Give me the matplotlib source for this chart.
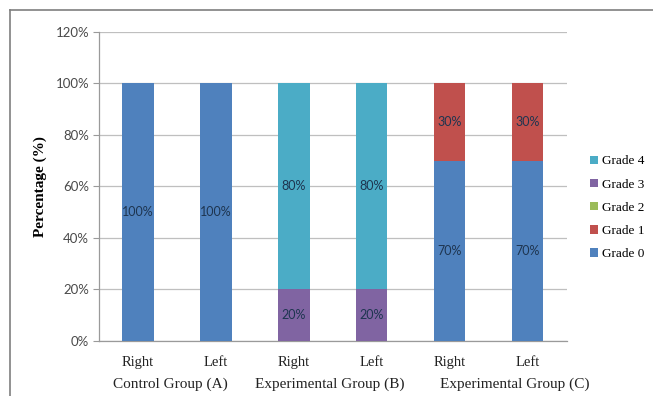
import matplotlib
matplotlib.use("Agg")
import matplotlib.pyplot as plt
from matplotlib.lines import Line2D
from matplotlib.patches import Patch
import numpy as np

# Percentage of limbs by grade, per group and side
sides = ["Right", "Left", "Right", "Left", "Right", "Left"]
groups = ["Control Group (A)", "Experimental Group (B)", "Experimental Group (C)"]
grade_names = ["Grade 0", "Grade 1", "Grade 2", "Grade 3", "Grade 4"]
grade0 = [100, 100, 0, 0, 70, 70]
grade1 = [0, 0, 0, 0, 30, 30]
grade2 = [0, 0, 0, 0, 0, 0]
grade3 = [0, 0, 20, 20, 0, 0]
grade4 = [0, 0, 80, 80, 0, 0]
yticks = [0, 20, 40, 60, 80, 100, 120]

colors = ["#4F81BD", "#C0504D", "#9BBB59", "#8064A2", "#4BACC6"]
series = [grade0, grade1, grade2, grade3, grade4]

serif = "Liberation Serif"
sans = "Lato"

fig = plt.figure(figsize=(6.53, 3.96), dpi=100)
ax = fig.add_axes([0.1516, 0.1389, 0.7164, 0.7803])

x = np.arange(len(sides))
bottom = np.zeros(len(sides))
for vals, col in zip(series, colors):
    vals = np.array(vals, dtype=float)
    ax.bar(x, vals, width=0.4, bottom=bottom, color=col, zorder=3)
    for xi, v, b in zip(x, vals, bottom):
        if v > 0:
            ax.text(xi, b + v / 2, f"{int(v)}%", ha="center", va="center",
                    fontsize=9, family=sans, color="#1E3550", zorder=4)
    bottom += vals

ax.set_xlim(-0.5, len(sides) - 0.5)
ax.set_ylim(0, 120)
ax.set_yticks(yticks)
ax.set_yticklabels([f"{t}%" for t in yticks], family=sans, fontsize=9.5, color="#4A4A4A")
ax.yaxis.grid(True, color="#BFBFBF", linewidth=0.9, zorder=0)
ax.set_axisbelow(True)
ax.tick_params(axis="y", length=4, width=0.8, color="#9A9A9A", pad=3)
ax.tick_params(axis="x", length=0, pad=11)
ax.set_xticks(x)
ax.set_xticklabels(sides, family=serif, fontsize=10.5, color="#222222")
for s in ["top", "right"]:
    ax.spines[s].set_visible(False)
for s in ["left", "bottom"]:
    ax.spines[s].set_color("#9A9A9A")
    ax.spines[s].set_linewidth(0.9)

ax.set_ylabel("Percentage (%)", family=serif, fontsize=11, fontweight="bold", labelpad=6)

# group captions under the side labels
group_x = [0.41, 2.46, 4.83]
for gx, g in zip(group_x, groups):
    ax.text(gx, -0.14, g, transform=ax.get_xaxis_transform(), ha="center", va="center",
            family=serif, fontsize=11, color="#222222")

handles = [Patch(facecolor=c, edgecolor="none") for c in colors][::-1]
labels = grade_names[::-1]
fig.legend(handles, labels, loc="center left", bbox_to_anchor=(0.885, 0.475),
           frameon=False, prop={"family": serif, "size": 9.5},
           handlelength=0.6, handleheight=0.6, handletextpad=0.3, labelspacing=0.85)

# outer frame of the figure
fig.add_artist(Line2D([10 / 653, 1.0], [1 - 10 / 396, 1 - 10 / 396], transform=fig.transFigure,
                      color="#7F7F7F", linewidth=1.2))
fig.add_artist(Line2D([10 / 653, 10 / 653], [0.0, 1 - 10 / 396], transform=fig.transFigure,
                      color="#7F7F7F", linewidth=1.2))

fig.savefig("out.png", dpi=100)
